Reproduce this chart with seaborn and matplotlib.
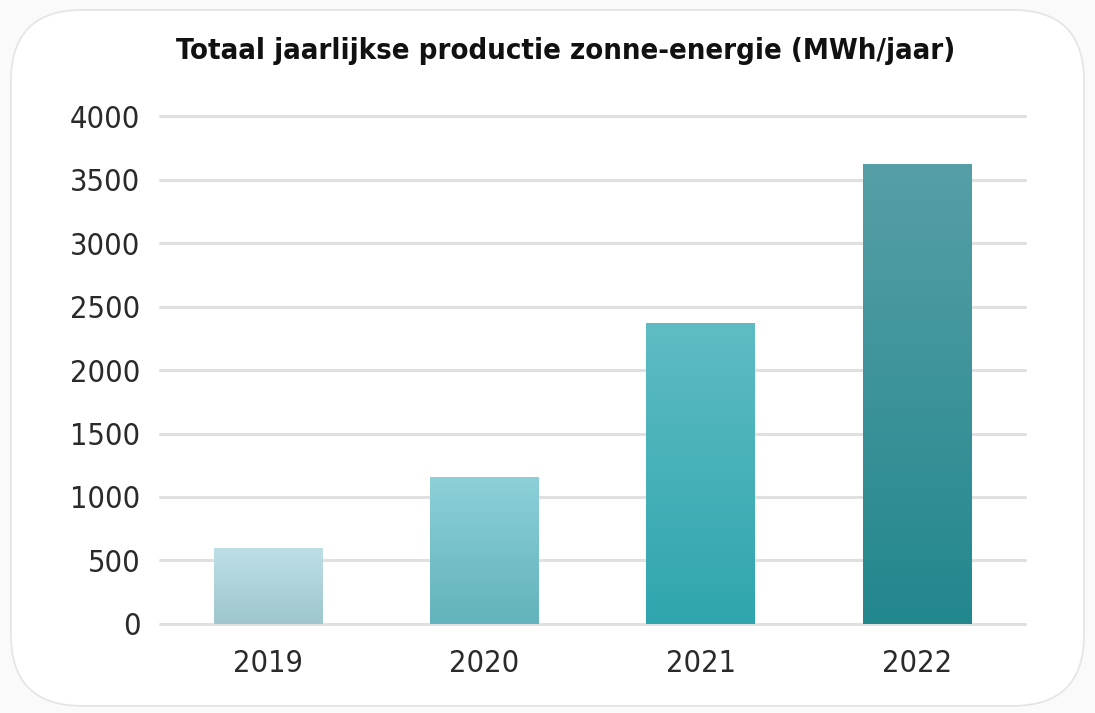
import numpy as np
import pandas as pd
import matplotlib
matplotlib.use("Agg")
import matplotlib.pyplot as plt
import seaborn as sns
from matplotlib.patches import FancyBboxPatch
from matplotlib.colors import LinearSegmentedColormap

years = ["2019", "2020", "2021", "2022"]
production = [600, 1160, 2370, 3620]
top_colors = ["#bde0e6", "#8dd0d8", "#5fbcc3", "#569fa6"]
bottom_colors = ["#9fc6cd", "#62b3bb", "#2fa5ae", "#22878d"]
title = "Totaal jaarlijkse productie zonne-energie (MWh/jaar)"

sns.set_theme(style="white")
plt.rcParams["font.family"] = ["DejaVu Sans"]
plt.rcParams["font.stretch"] = "condensed"

df = pd.DataFrame({"year": years, "mwh": production})

fig = plt.figure(figsize=(10.95, 7.13), dpi=100)
fig.patch.set_facecolor("#fafafa")

# white rounded card
card = FancyBboxPatch((0.010, 0.010), 0.980, 0.976,
                      boxstyle="round,pad=0,rounding_size=0.065",
                      transform=fig.transFigure, facecolor="white",
                      edgecolor="#e4e4e4", linewidth=1.2, zorder=-5,
                      mutation_aspect=1095 / 713)
fig.patches.append(card)

ax = fig.add_axes([0.146, 0.125, 0.79, 0.712])
ax.set_facecolor("none")
sns.barplot(data=df, x="year", y="mwh", ax=ax, width=0.5, color="#3ab5bf",
            saturation=1, zorder=3)

ax.set_yticks(np.arange(0, 4001, 500))
ax.yaxis.grid(True, color="#e0e0e0", linewidth=2.2, zorder=0)
ax.set_axisbelow(True)
for s in ax.spines.values():
    s.set_visible(False)
ax.set_xlabel("")
ax.set_ylabel("")
ax.tick_params(axis="y", length=0, pad=14, labelsize=22, labelcolor="#2a2a2a")
ax.tick_params(axis="x", length=0, pad=18, labelsize=22, labelcolor="#2a2a2a")

# vertical gradient on each bar
for patch, c_top, c_bot in zip(ax.patches, top_colors, bottom_colors):
    x0, y0 = patch.get_x(), patch.get_y()
    w, h = patch.get_width(), patch.get_height()
    cmap = LinearSegmentedColormap.from_list("g", [c_bot, c_top])
    grad = np.linspace(0, 1, 256).reshape(-1, 1)
    im = ax.imshow(grad, cmap=cmap, origin="lower", aspect="auto",
                   extent=[x0, x0 + w, y0, y0 + h], zorder=4)
    im.set_clip_path(patch)
    patch.set_facecolor("none")
    patch.set_edgecolor("none")
ax.set_xlim(-0.5, 3.5)
ax.set_ylim(0, 4000)
for line in ax.get_ygridlines():
    line.set_clip_on(False)

fig.text(0.517, 0.928, title, ha="center", va="center", fontsize=21,
         fontweight="bold", color="#111111")

fig.savefig("out.png", dpi=100)
